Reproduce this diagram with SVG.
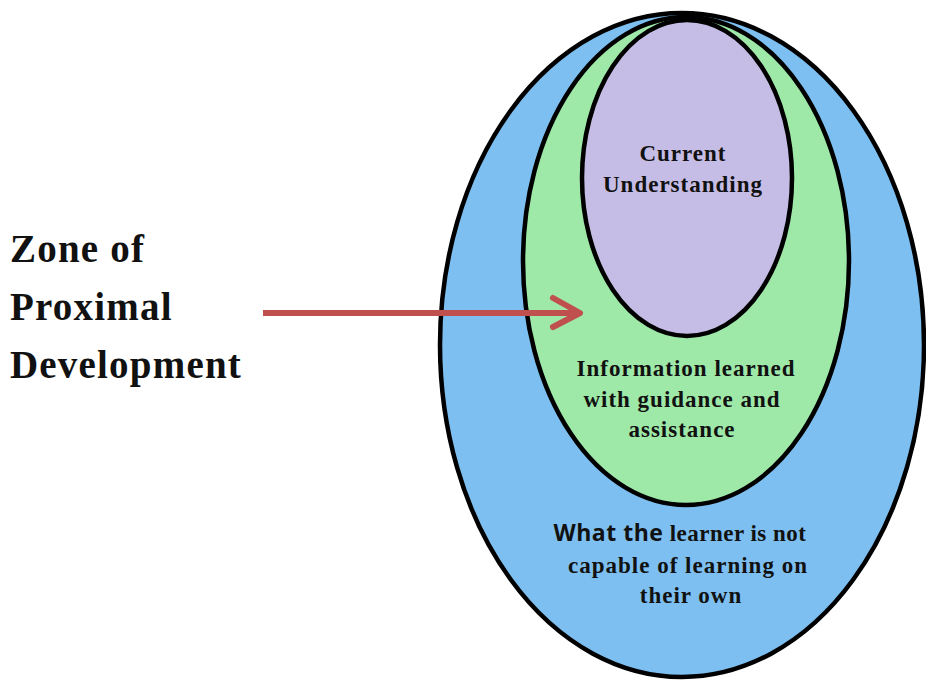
<svg xmlns="http://www.w3.org/2000/svg" width="926" height="680" viewBox="0 0 926 680">
<style>
.ring{stroke:#000;stroke-width:4.5}
.lbl{font-family:"Liberation Serif",serif;font-weight:bold;fill:#111;text-anchor:middle;font-size:23px;letter-spacing:1px}
.side{font-family:"Liberation Serif",serif;font-weight:bold;font-size:39px;letter-spacing:1.2px;fill:#111}
</style>
<rect width="926" height="680" fill="#fff"/>
<g id="outer">
<ellipse class="ring" cx="682" cy="345" rx="242" ry="332" fill="#7DBFF0"/>
<text class="lbl" x="680" y="541" style="letter-spacing:0.5px"><tspan font-family="'Open Sans',sans-serif">What the</tspan> learner is not</text>
<text class="lbl" x="688" y="573">capable of learning on</text>
<text class="lbl" x="691" y="603">their own</text>
</g>
<g id="middle">
<ellipse class="ring" cx="686" cy="261" rx="163" ry="244" fill="#9EE8A8"/>
<text class="lbl" x="686" y="376">Information learned</text>
<text class="lbl" x="682" y="407">with guidance and</text>
<text class="lbl" x="682" y="437">assistance</text>
</g>
<g id="inner">
<ellipse class="ring" cx="687" cy="178" rx="105" ry="158" fill="#C6BDE6"/>
<text class="lbl" x="683" y="161">Current</text>
<text class="lbl" x="683" y="192">Understanding</text>
</g>
<g id="zpd">
<text class="side" x="10" y="262">Zone of</text>
<text class="side" x="10" y="320">Proximal</text>
<text class="side" x="10" y="378">Development</text>
</g>
<g id="connectors" fill="none" stroke="#C0504D" stroke-width="6" stroke-linecap="round" stroke-linejoin="round">
<line x1="263" y1="313" x2="578" y2="313" stroke-linecap="butt"/>
<polyline points="553,298 580,313 553,327"/>
</g>
</svg>
